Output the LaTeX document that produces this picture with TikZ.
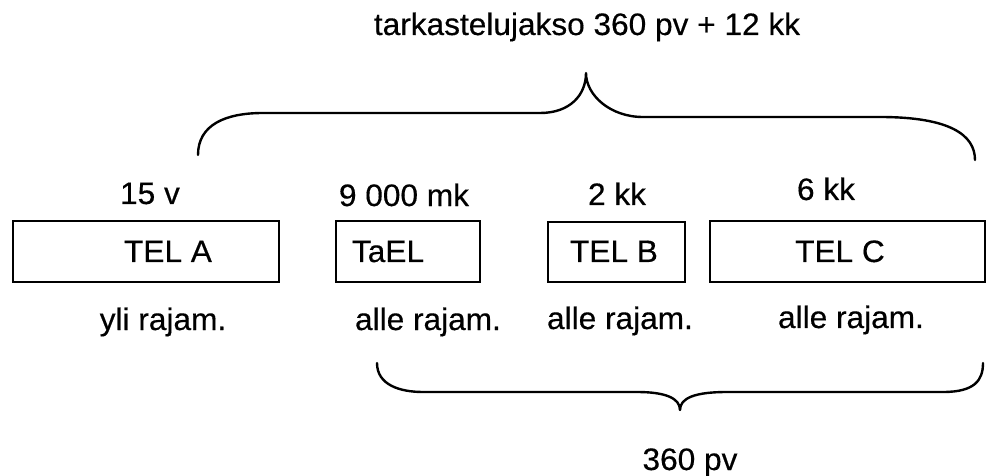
\documentclass[tikz,border=0pt]{standalone}
\usepackage{fontspec}
\setmainfont[FakeStretch=1.02,FakeBold=0.4]{Liberation Sans}
\begin{document}
\begin{tikzpicture}[x=0.5pt,y=-0.5pt,
  lbl/.style={anchor=base,inner sep=0pt,font=\fontsize{15.5pt}{18pt}\selectfont},
  tbox/.style={draw,line width=1pt,inner sep=0pt},
  brace/.style={line width=1.2pt,line cap=round,line join=round}]
\useasboundingbox (0,0) rectangle (992,476);
% boxes
\node[tbox,minimum width=133pt,minimum height=30.5pt] (ba) at (146,251.5) {};
\node[tbox,minimum width=72pt,minimum height=30.5pt] (bt) at (408,251.5) {};
\node[tbox,minimum width=68.5pt,minimum height=30pt] (bb) at (616.5,252) {};
\node[tbox,minimum width=137.5pt,minimum height=30.5pt] (bc) at (847.5,251.5) {};
% texts in boxes
\node[lbl] (ta) at (168,262) {TEL A};
\node[lbl] (tt) at (388,262) {TaEL};
\node[lbl] (tb) at (614,262) {TEL B};
\node[lbl] (tc) at (840,262) {TEL C};
% labels above
\node[lbl] (ua) at (150,204) {15 v};
\node[lbl] (ut) at (404,206) {9 000 mk};
\node[lbl] (ub) at (617,205) {2 kk};
\node[lbl] (uc) at (826,200) {6 kk};
% labels below
\node[lbl] (la) at (163,330) {yli rajam.};
\node[lbl] (lt) at (428,330) {alle rajam.};
\node[lbl] (lb) at (620,329) {alle rajam.};
\node[lbl] (lc) at (851,328) {alle rajam.};
% title and bottom caption
\node[lbl] (title) at (587,35) {tarkastelujakso 360 pv + 12 kk};
\node[lbl] (cap) at (690,470) {360 pv};
% top brace
\coordinate (t1) at (198,155);
\coordinate (ttip) at (586,73);
\coordinate (t2) at (975,160);
\draw[brace] (t1) .. controls (198,125) and (225,113) .. (263,113)
  -- (540,113) .. controls (570,113) and (586,95) .. (ttip)
  .. controls (586,95) and (610,117) .. (643,117)
  -- (880,117) .. controls (950,117) and (975,135) .. (t2);
% bottom brace
\coordinate (b1) at (377,363);
\coordinate (btip) at (680,410);
\coordinate (b2) at (983,363);
\draw[brace] (b1) .. controls (377,385) and (400,392) .. (423,392)
  -- (637,392) .. controls (665,392) and (680,398) .. (btip)
  .. controls (680,398) and (695,392) .. (727,392)
  -- (943,392) .. controls (975,392) and (983,380) .. (b2);
\end{tikzpicture}
\end{document}
